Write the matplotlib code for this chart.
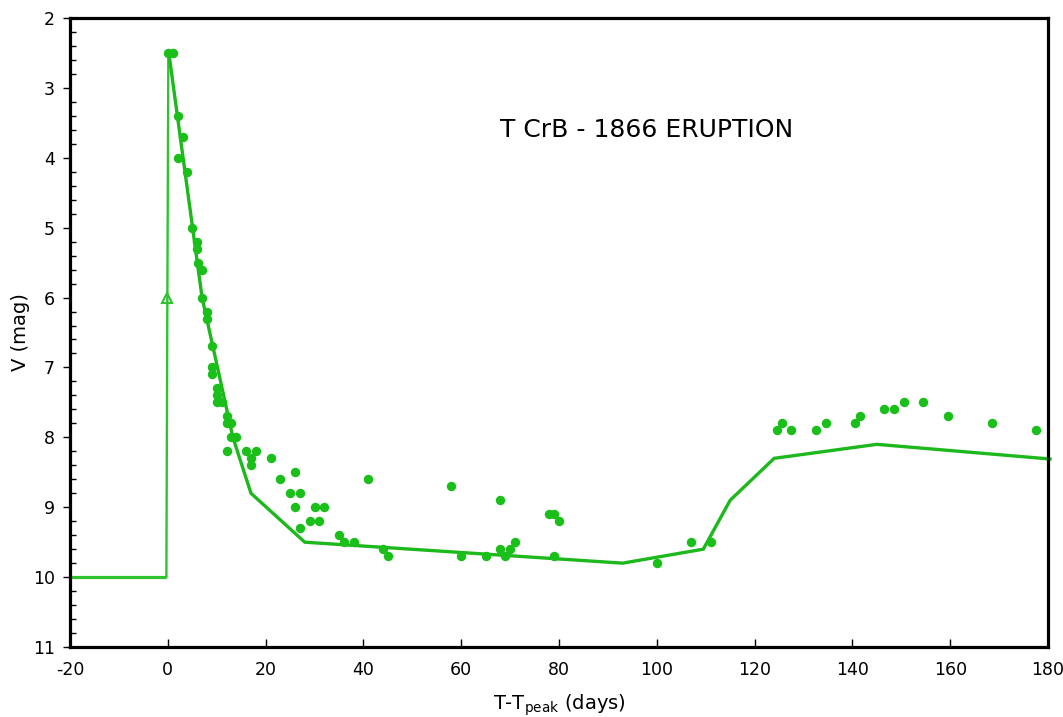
import matplotlib
matplotlib.use("Agg")
import matplotlib.pyplot as plt
from matplotlib.ticker import MultipleLocator

plt.rcParams["axes.unicode_minus"] = False

# ---- data ----
obs_days = [0, 1, 2, 3, 2, 4, 5, 6, 6, 6.2, 7, 7, 8, 8, 9, 9, 9, 10, 10, 10, 11,
            12, 12, 13, 13, 14, 12, 16, 18, 17, 17, 21, 23, 26, 25, 27, 26, 30, 32,
            41, 29, 31, 27, 35, 36, 38, 44, 45, 58, 60, 65, 68, 68, 69, 70, 71,
            78, 79, 80, 79, 100, 107, 111,
            124.5, 125.5, 127.5, 132.5, 134.5, 140.5, 141.5, 146.5, 148.5, 150.5,
            154.5, 159.5, 168.5, 177.5]
obs_mag = [2.5, 2.5, 3.4, 3.7, 4.0, 4.2, 5.0, 5.2, 5.3, 5.5, 5.6, 6.0, 6.2, 6.3, 6.7, 7.0, 7.1, 7.3, 7.4, 7.5, 7.5,
           7.7, 7.8, 7.8, 8.0, 8.0, 8.2, 8.2, 8.2, 8.3, 8.4, 8.3, 8.6, 8.5, 8.8, 8.8, 9.0, 9.0, 9.0,
           8.6, 9.2, 9.2, 9.3, 9.4, 9.5, 9.5, 9.6, 9.7, 8.7, 9.7, 9.7, 8.9, 9.6, 9.7, 9.6, 9.5,
           9.1, 9.1, 9.2, 9.7, 9.8, 9.5, 9.5,
           7.9, 7.8, 7.9, 7.9, 7.8, 7.8, 7.7, 7.6, 7.6, 7.5,
           7.5, 7.7, 7.8, 7.9]

rise_days = [-20, -0.3, -0.1, 0.1]
rise_mag = [10.0, 10.0, 6.0, 2.5]

model_days = [0.2, 7, 13.3, 17, 28, 93, 109.5, 115, 124, 145, 180.4]
model_mag = [2.5, 6.0, 8.0, 8.8, 9.5, 9.8, 9.6, 8.9, 8.3, 8.1, 8.31]

x_ticks = [-20, 0, 20, 40, 60, 80, 100, 120, 140, 160, 180]
y_ticks = [2, 3, 4, 5, 6, 7, 8, 9, 10, 11]

title_text = "T CrB - 1866 ERUPTION"

# ---- plot ----
fig = plt.figure(figsize=(10.63, 7.17), dpi=100)
ax = fig.add_axes([0.0659, 0.0976, 0.92, 0.8773])

line_col = "#1cb81c"
dot_col = "#1abf1a"
rise_col = "#2fc42f"

# quiescent level (thick) and the rise (thin)
ax.plot(rise_days[:2], rise_mag[:2], color=rise_col, lw=2.3, zorder=2,
        solid_capstyle="butt")
ax.plot(rise_days[1:], rise_mag[1:], color=rise_col, lw=1.7, zorder=2)
ax.plot([rise_days[2]], [rise_mag[2]], marker="^", ms=7, mfc="none",
        mec=rise_col, mew=1.5, ls="none", zorder=3)
ax.plot(model_days, model_mag, color=line_col, lw=2.4, zorder=2, clip_on=False,
        solid_joinstyle="miter")
ax.plot(obs_days, obs_mag, "o", color=dot_col, ms=6.8, mec="none", zorder=4)

ax.set_xlim(-20, 180)
ax.set_ylim(11, 2)
ax.set_xticks(x_ticks)
ax.set_yticks(y_ticks)
ax.yaxis.set_minor_locator(MultipleLocator(0.2))

ax.tick_params(axis="x", which="major", direction="in", length=6, width=1,
               labelsize=12.5, pad=10)
ax.tick_params(axis="y", which="major", direction="out", length=5, width=1,
               labelsize=12.5, pad=6)
ax.tick_params(axis="y", which="minor", direction="in", length=4, width=1)

for sp in ax.spines.values():
    sp.set_linewidth(2.3)
    sp.set_color("black")

ax.set_xlabel(r"T-T$_{\mathregular{peak}}$ (days)", fontsize=14, labelpad=10)
ax.set_ylabel("V (mag)", fontsize=14, labelpad=2)

ax.text(98, 3.6, title_text, fontsize=18, ha="center", va="center")

fig.savefig("out.png", dpi=100)
